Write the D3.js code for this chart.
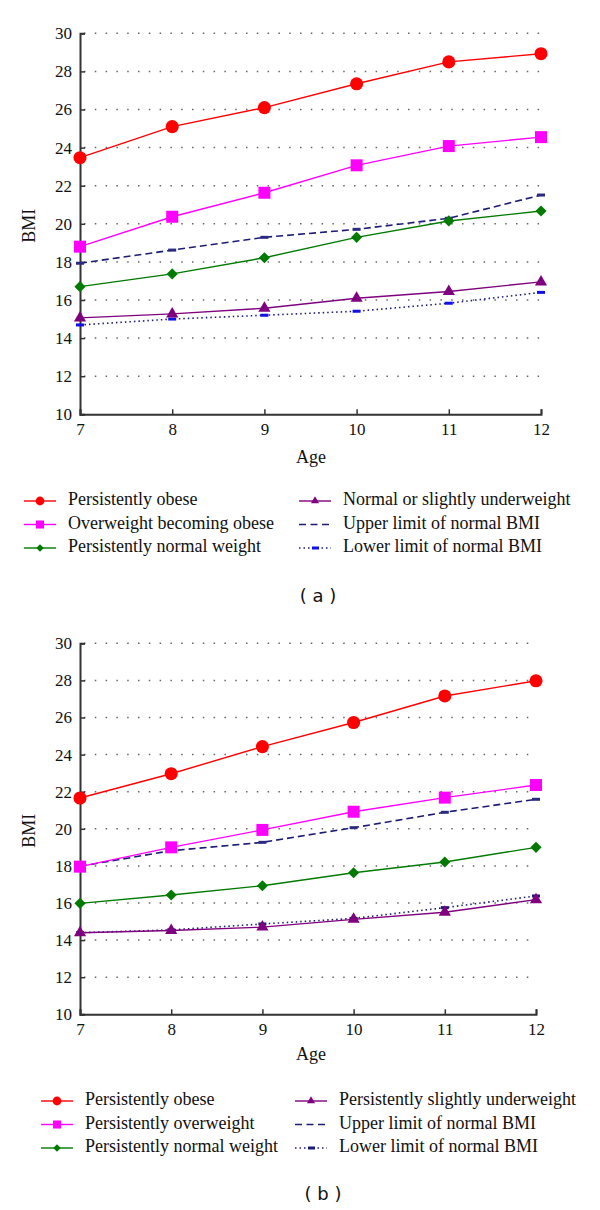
<!DOCTYPE html>
<html>
<head>
<meta charset="utf-8">
<script src="https://cdn.jsdelivr.net/npm/d3@7"></script>
<style>
  body { margin: 0; background: #fff; }
  svg { display: block; }
  text { font-family: "Liberation Serif", "Times New Roman", serif; fill: #111; }
  .cap { font-family: "DejaVu Sans", Verdana, sans-serif; }
</style>
</head>
<body>
<div id="chart"></div>
<script>
// ages on the x axis and BMI ticks
var ages = [7, 8, 9, 10, 11, 12];
var bmiTicks = [10, 12, 14, 16, 18, 20, 22, 24, 26, 28, 30];

// panel (a)
var obeseA = [23.47, 25.1, 26.1, 27.35, 28.5, 28.93];
var overweightA = [18.8, 20.37, 21.63, 23.07, 24.08, 24.55];
var normalA = [16.7, 17.37, 18.22, 19.29, 20.15, 20.67];
var underA = [15.06, 15.27, 15.57, 16.09, 16.45, 16.95];
var upperA = [17.93, 18.62, 19.29, 19.71, 20.29, 21.51];
var lowerA = [14.69, 15.0, 15.2, 15.41, 15.83, 16.4];
var namesA = ["Persistently obese", "Overweight becoming obese", "Persistently normal weight",
  "Normal or slightly underweight", "Upper limit of normal BMI", "Lower limit of normal BMI"];

// panel (b)
var obeseB = [21.66, 22.97, 24.43, 25.73, 27.16, 27.98];
var overweightB = [17.96, 19.0, 19.94, 20.92, 21.68, 22.36];
var normalB = [15.98, 16.43, 16.93, 17.63, 18.21, 19.0];
var underB = [14.4, 14.52, 14.7, 15.12, 15.5, 16.18];
var upperB = [17.98, 18.82, 19.27, 20.06, 20.89, 21.59];
var lowerB = [14.4, 14.55, 14.87, 15.17, 15.75, 16.38];
var namesB = ["Persistently obese", "Persistently overweight", "Persistently normal weight",
  "Persistently slightly underweight", "Upper limit of normal BMI", "Lower limit of normal BMI"];

var width = 600, height = 1210;

var svg = d3.select("#chart")
  .append("svg")
  .attr("width", width)
  .attr("height", height);

function drawPanel(opt) {
  var g = svg.append("g");

  var x = d3.scaleLinear().domain([7, 12]).range([80, opt.right]);
  var y = d3.scaleLinear().domain([10, 30]).range([opt.bottom, opt.top]);

  // dotted gridlines
  g.selectAll(".grid")
    .data(bmiTicks.filter(function (d) { return d > 10; }))
    .enter().append("line")
    .attr("x1", x(7) + 4)
    .attr("x2", x(12))
    .attr("y1", function (d) { return y(d); })
    .attr("y2", function (d) { return y(d); })
    .attr("stroke", "#666")
    .attr("stroke-width", 1.5)
    .attr("stroke-dasharray", "1.5,9.3");

  var yAxis = g.append("g")
    .attr("transform", "translate(80,0)")
    .call(d3.axisLeft(y).tickValues(bmiTicks).tickSize(-5).tickPadding(8).tickFormat(d3.format("d")));
  var xAxis = g.append("g")
    .attr("transform", "translate(0," + opt.bottom + ")")
    .call(d3.axisBottom(x).tickValues(ages).tickSize(-5).tickPadding(9).tickFormat(d3.format("d")));

  [yAxis, xAxis].forEach(function (a) {
    a.select(".domain").attr("stroke", "#333").attr("stroke-width", 2);
    a.selectAll(".tick line").attr("stroke", "#333").attr("stroke-width", 1.5);
    a.selectAll(".tick text").attr("font-size", 17).attr("fill", "#111")
      .attr("font-family", "Liberation Serif, serif");
  });

  g.append("text")
    .attr("transform", "translate(31," + (y(20) + 2) + ") rotate(-90)")
    .attr("text-anchor", "middle")
    .attr("dominant-baseline", "middle")
    .attr("font-size", 18)
    .text("BMI");

  g.append("text")
    .attr("x", 311)
    .attr("y", opt.ageY)
    .attr("text-anchor", "middle")
    .attr("dominant-baseline", "middle")
    .attr("font-size", 18)
    .text("Age");

  var line = d3.line()
    .x(function (d, i) { return x(ages[i]); })
    .y(function (d) { return y(d); });

  // reference limit lines
  g.append("path").datum(opt.upper)
    .attr("d", line).attr("fill", "none")
    .attr("stroke", "#1c1c78").attr("stroke-width", 1.6)
    .attr("stroke-dasharray", "7,4");
  g.append("path").datum(opt.lower)
    .attr("d", line).attr("fill", "none")
    .attr("stroke", "#1c1c78").attr("stroke-width", 1.6)
    .attr("stroke-dasharray", "1.5,3");

  var series = [
    { v: opt.obese, c: "#ff0000", s: "circle" },
    { v: opt.overweight, c: "#ff00ff", s: "square" },
    { v: opt.normal, c: "#007a00", s: "diamond" },
    { v: opt.under, c: "#7f007f", s: "triangle" }
  ];

  series.forEach(function (ser) {
    g.append("path").datum(ser.v)
      .attr("d", line).attr("fill", "none")
      .attr("stroke", ser.c).attr("stroke-width", 1.4);
  });

  // limit markers (short dashes)
  [[opt.upper, "#2a2a80"], [opt.lower, opt.lowerMark]].forEach(function (m) {
    g.selectAll(null)
      .data(m[0])
      .enter().append("rect")
      .attr("x", function (d, i) { return x(ages[i]) - 4; })
      .attr("y", function (d) { return y(d) - 1.5; })
      .attr("width", 8)
      .attr("height", 3)
      .attr("fill", m[1]);
  });

  series.forEach(function (ser) {
    g.selectAll(null)
      .data(ser.v)
      .enter().append("path")
      .attr("d", symbolPath(ser.s, 1))
      .attr("transform", function (d, i) {
        return "translate(" + x(ages[i]) + "," + y(d) + ")" + (ser.s === "diamond" ? " rotate(45)" : "");
      })
      .attr("fill", ser.c);
  });

  // legend
  var lg = g.append("g");
  var rows = [0, 1, 2];
  var cols = [opt.legLeft, opt.legRight];
  for (var k = 0; k < 6; k++) {
    var col = Math.floor(k / 3), row = k % 3;
    var lx = cols[col], ly = opt.legTop + rows[row] * 23.5;
    if (k < 4) {
      var ser = series[k];
      lg.append("line").attr("x1", lx).attr("x2", lx + 32).attr("y1", ly).attr("y2", ly)
        .attr("stroke", ser.c).attr("stroke-width", 1.4);
      lg.append("path").attr("d", symbolPath(ser.s, 0.45))
        .attr("transform", "translate(" + (lx + 16) + "," + ly + ")" + (ser.s === "diamond" ? " rotate(45)" : ""))
        .attr("fill", ser.c);
    } else if (k === 4) {
      lg.append("line").attr("x1", lx).attr("x2", lx + 32).attr("y1", ly).attr("y2", ly)
        .attr("stroke", "#1c1c78").attr("stroke-width", 1.6).attr("stroke-dasharray", "7,4.5");
    } else {
      lg.append("line").attr("x1", lx).attr("x2", lx + 32).attr("y1", ly).attr("y2", ly)
        .attr("stroke", "#1c1c78").attr("stroke-width", 1.5).attr("stroke-dasharray", "1.5,3");
      lg.append("rect").attr("x", lx + 13).attr("y", ly - 1.5).attr("width", 7).attr("height", 3)
        .attr("fill", opt.lowerMark);
    }
    lg.append("text")
      .attr("x", lx + 44)
      .attr("y", ly)
      .attr("dominant-baseline", "middle")
      .attr("font-size", 18)
      .text(opt.names[k]);
  }

  g.append("text")
    .attr("class", "cap")
    .attr("x", opt.capX)
    .attr("y", opt.capY)
    .attr("text-anchor", "middle")
    .attr("dominant-baseline", "middle")
    .attr("font-size", 18)
    .text(opt.cap);
}

function symbolPath(kind, k) {
  var types = {
    circle: [d3.symbolCircle, 135],
    square: [d3.symbolSquare, 144],
    diamond: [d3.symbolSquare, 62],
    triangle: [d3.symbolTriangle, 64]
  };
  var t = types[kind];
  return d3.symbol().type(t[0]).size(t[1] * k)();
}

drawPanel({
  top: 33.3, bottom: 414.3, right: 541,
  obese: obeseA, overweight: overweightA, normal: normalA, under: underA,
  upper: upperA, lower: lowerA, lowerMark: "#1010e8", names: namesA,
  ageY: 459, legTop: 501, legLeft: 24, legRight: 299,
  cap: "( a )", capX: 318, capY: 597
});

drawPanel({
  top: 643.3, bottom: 1014.3, right: 536,
  obese: obeseB, overweight: overweightB, normal: normalB, under: underB,
  upper: upperB, lower: lowerB, lowerMark: "#1c1c78", names: namesB,
  ageY: 1056, legTop: 1101, legLeft: 41, legRight: 295,
  cap: "( b )", capX: 323, capY: 1195
});
</script>
</body>
</html>
